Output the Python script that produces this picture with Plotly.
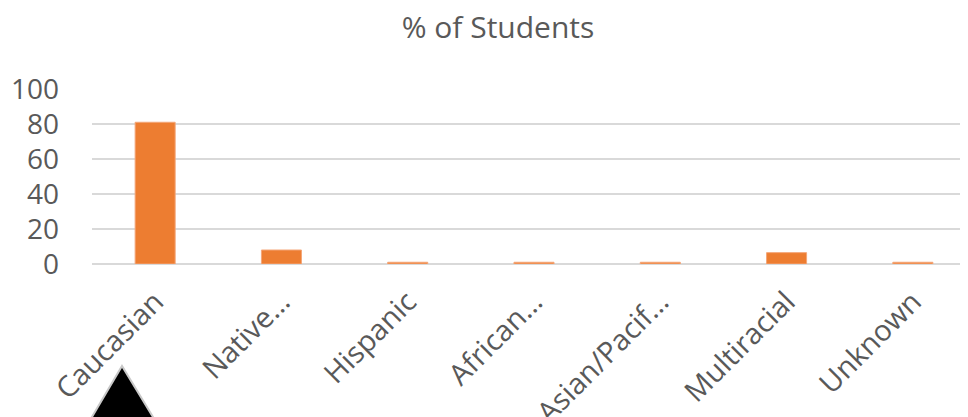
import plotly.graph_objects as go

categories = ["Caucasian", "Native…", "Hispanic", "African…", "Asian/Pacif…", "Multiracial", "Unknown"]
values = [81, 8, 1, 1, 1, 6.5, 1]
y_ticks = [0, 20, 40, 60, 80, 100]
title_text = "% of Students"

W, H = 968, 417
OFF = 8  # default page body margin
ML, MR, MT, MB = 84, 0, 81, 161
PW, PH = W - ML - MR, H - MT - MB

def px2paper(px, py):
    # screen pixel -> paper coords
    return (px - OFF - ML) / PW, (H - MB - (py - OFF)) / PH

fig = go.Figure()
fig.add_trace(go.Bar(
    x=list(range(len(categories))), y=values,
    marker=dict(color="#ED7D31", line=dict(color="#F4A678", width=1)),
    width=0.317,
))

# decorative black triangle (artifact in the reference image)
tri = [px2paper(122, 366), px2paper(89, 422), px2paper(156, 422)]
path = "M {} {} L {} {} L {} {} Z".format(tri[0][0], tri[0][1], tri[1][0], tri[1][1], tri[2][0], tri[2][1])
fig.add_shape(type="path", path=path, xref="paper", yref="paper",
              fillcolor="black", line=dict(color="#c8c8c8", width=2))

fig.update_layout(
    width=W, height=H,
    margin=dict(l=ML, r=MR, t=MT, b=MB, autoexpand=False),
    paper_bgcolor="white", plot_bgcolor="white",
    showlegend=False,
    font=dict(family="Open Sans", color="#595959"),
    title=dict(text=title_text, x=(498 - OFF) / W, xanchor="center", y=1 - (27 - OFF) / H, yanchor="middle",
               font=dict(size=30, color="#595959", family="Open Sans")),
    xaxis=dict(
        tickmode="array", tickvals=list(range(len(categories))), ticktext=categories,
        range=[-0.5, 6.5], tickangle=-45, showgrid=False, zeroline=False,
        showline=False, ticks="", tickfont=dict(size=29, color="#595959"),
        ticklabelstandoff=14, automargin=False,
    ),
    yaxis=dict(
        range=[0, 100], tickvals=y_ticks, showgrid=True, gridcolor="#d9d9d9", gridwidth=2,
        zeroline=True, zerolinecolor="#d9d9d9", zerolinewidth=2, showline=False, ticks="",
        tickfont=dict(size=28, color="#595959"), ticklabelstandoff=32, automargin=False,
    ),
)

fig.write_html("out.html")
